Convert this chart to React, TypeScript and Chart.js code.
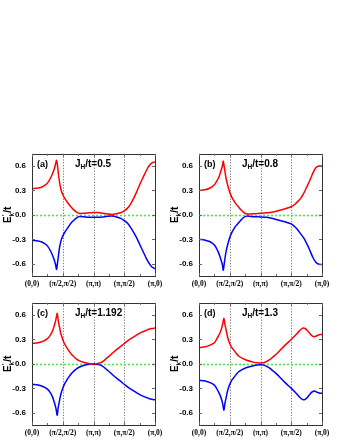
import React, { useEffect, useRef } from "react";
import { Chart, registerables } from "chart.js";
Chart.register(...registerables);

const xLabels = ["(0,0)", "(π/2,π/2)", "(π,π)", "(π,π/2)", "(π,0)"];
const yTicks = [-0.6, -0.3, 0.0, 0.3, 0.6];

// Panel (a) J_H/t = 0.5
const kA = [0, 0.2, 0.3, 0.4, 0.5, 0.6, 0.66, 0.72, 0.76, 0.8, 0.83, 0.86, 0.9, 0.95, 1.0, 1.07, 1.15, 1.25, 1.35, 1.45, 1.55, 1.7, 1.85, 2.0, 2.15, 2.3, 2.45, 2.6, 2.75, 2.9, 3.0, 3.1, 3.2, 3.3, 3.4, 3.5, 3.6, 3.7, 3.8, 3.9, 4.0];
const redA = [0.32, 0.33, 0.34, 0.36, 0.39, 0.45, 0.5, 0.56, 0.615, 0.67, 0.6, 0.5, 0.39, 0.3, 0.25, 0.2, 0.155, 0.105, 0.065, 0.035, 0.018, 0.02, 0.026, 0.03, 0.028, 0.02, 0.012, 0.006, 0.015, 0.03, 0.05, 0.08, 0.13, 0.2, 0.28, 0.37, 0.45, 0.53, 0.6, 0.64, 0.65];
const blueA = [-0.31, -0.32, -0.33, -0.35, -0.38, -0.44, -0.49, -0.55, -0.6, -0.67, -0.59, -0.5, -0.39, -0.31, -0.26, -0.21, -0.165, -0.11, -0.07, -0.035, -0.02, -0.024, -0.028, -0.03, -0.03, -0.025, -0.018, -0.015, -0.025, -0.045, -0.07, -0.1, -0.15, -0.21, -0.28, -0.36, -0.44, -0.52, -0.59, -0.64, -0.66];

// Panel (b) J_H/t = 0.8
const kB = [0, 0.2, 0.36, 0.5, 0.57, 0.63, 0.68, 0.73, 0.76, 0.79, 0.82, 0.85, 0.88, 0.93, 0.99, 1.05, 1.12, 1.2, 1.28, 1.36, 1.44, 1.55, 1.65, 1.77, 2.0, 2.2, 2.4, 2.6, 2.8, 3.0, 3.1, 3.2, 3.3, 3.4, 3.5, 3.6, 3.7, 3.8, 3.9, 4.0];
const redB = [0.3, 0.31, 0.33, 0.37, 0.41, 0.45, 0.5, 0.56, 0.6, 0.66, 0.59, 0.52, 0.45, 0.37, 0.29, 0.23, 0.18, 0.135, 0.1, 0.065, 0.035, 0.012, 0.01, 0.015, 0.02, 0.025, 0.035, 0.055, 0.075, 0.1, 0.125, 0.16, 0.2, 0.26, 0.34, 0.42, 0.51, 0.58, 0.6, 0.6];
const blueB = [-0.3, -0.31, -0.33, -0.37, -0.41, -0.46, -0.51, -0.57, -0.61, -0.68, -0.6, -0.52, -0.45, -0.37, -0.29, -0.23, -0.18, -0.135, -0.1, -0.065, -0.035, -0.015, -0.018, -0.022, -0.025, -0.03, -0.045, -0.065, -0.085, -0.11, -0.14, -0.18, -0.23, -0.28, -0.35, -0.43, -0.52, -0.58, -0.605, -0.61];

// Panel (c) J_H/t = 1.192
const kC = [0, 0.2, 0.37, 0.5, 0.59, 0.65, 0.69, 0.74, 0.78, 0.82, 0.85, 0.89, 0.94, 1.0, 1.06, 1.13, 1.2, 1.29, 1.37, 1.45, 1.55, 1.67, 1.8, 1.9, 2.0, 2.1, 2.21, 2.32, 2.43, 2.54, 2.64, 2.8, 3.0, 3.15, 3.3, 3.45, 3.57, 3.7, 3.8, 3.9, 4.0];
const redC = [0.25, 0.26, 0.28, 0.31, 0.35, 0.39, 0.43, 0.49, 0.55, 0.62, 0.54, 0.46, 0.37, 0.3, 0.245, 0.2, 0.16, 0.115, 0.085, 0.06, 0.038, 0.02, 0.007, 0.002, 0.0, 0.003, 0.012, 0.035, 0.07, 0.105, 0.14, 0.19, 0.25, 0.295, 0.33, 0.365, 0.39, 0.41, 0.425, 0.435, 0.44];
const blueC = [-0.25, -0.26, -0.28, -0.31, -0.35, -0.39, -0.43, -0.49, -0.55, -0.63, -0.54, -0.46, -0.37, -0.3, -0.245, -0.2, -0.16, -0.115, -0.085, -0.06, -0.038, -0.02, -0.007, -0.002, 0.0, -0.003, -0.012, -0.035, -0.07, -0.105, -0.14, -0.19, -0.25, -0.295, -0.33, -0.365, -0.39, -0.41, -0.425, -0.435, -0.44];

// Panel (d) J_H/t = 1.3
const kD = [0, 0.2, 0.36, 0.5, 0.57, 0.63, 0.68, 0.73, 0.77, 0.81, 0.84, 0.88, 0.93, 0.99, 1.05, 1.12, 1.2, 1.28, 1.4, 1.55, 1.77, 1.9, 2.0, 2.1, 2.2, 2.31, 2.42, 2.53, 2.63, 2.8, 3.0, 3.12, 3.23, 3.32, 3.39, 3.45, 3.5, 3.58, 3.66, 3.72, 3.77, 3.83, 3.88, 3.94, 4.0];
const redD = [0.2, 0.21, 0.23, 0.26, 0.3, 0.34, 0.38, 0.43, 0.49, 0.56, 0.49, 0.42, 0.33, 0.26, 0.21, 0.175, 0.135, 0.1, 0.07, 0.045, 0.022, 0.013, 0.01, 0.015, 0.03, 0.055, 0.09, 0.125, 0.165, 0.23, 0.3, 0.345, 0.39, 0.425, 0.44, 0.435, 0.42, 0.385, 0.35, 0.335, 0.335, 0.345, 0.355, 0.36, 0.36];
const blueD = [-0.2, -0.21, -0.23, -0.26, -0.3, -0.34, -0.38, -0.43, -0.49, -0.57, -0.49, -0.42, -0.33, -0.26, -0.21, -0.175, -0.135, -0.1, -0.07, -0.045, -0.022, -0.013, -0.01, -0.015, -0.03, -0.055, -0.09, -0.125, -0.165, -0.23, -0.3, -0.345, -0.39, -0.425, -0.44, -0.435, -0.42, -0.385, -0.35, -0.335, -0.335, -0.345, -0.355, -0.36, -0.36];

const panelTags = ["(a)", "(b)", "(c)", "(d)"];
const jValues = ["0.5", "0.8", "1.192", "1.3"];

const SANS = "'Liberation Sans', Arial, sans-serif";
const SERIF = "'Liberation Serif', 'Times New Roman', serif";

const framePlugin = {
  id: "frame",
  beforeDatasetsDraw(chart: any) {
    const { ctx, chartArea: a, scales } = chart;
    const x = scales.x, y = scales.y;
    ctx.save();
    ctx.strokeStyle = "#555";
    ctx.lineWidth = 0.8;
    ctx.setLineDash([1.2, 1.6]);
    for (const v of [1, 2, 3]) {
      const px = Math.round(x.getPixelForValue(v)) + 0.5;
      ctx.beginPath();
      ctx.moveTo(px, a.top);
      ctx.lineTo(px, a.bottom);
      ctx.stroke();
    }
    ctx.strokeStyle = "#44ee44";
    ctx.lineWidth = 1.6;
    ctx.setLineDash([2, 2]);
    const py = Math.round(y.getPixelForValue(0)) + 0.5;
    ctx.beginPath();
    ctx.moveTo(a.left, py);
    ctx.lineTo(a.right, py);
    ctx.stroke();
    ctx.restore();
  },
  afterDraw(chart: any, _args: any, opts: any) {
    const { ctx, chartArea: a, scales } = chart;
    const x = scales.x, y = scales.y;
    ctx.save();
    ctx.strokeStyle = "#333";
    ctx.lineWidth = 1;
    ctx.setLineDash([]);
    ctx.strokeRect(Math.round(a.left) + 0.5, Math.round(a.top) + 0.5, Math.round(a.right - a.left), Math.round(a.bottom - a.top));
    ctx.strokeStyle = "#666";
    ctx.beginPath();
    for (let i = 0; i <= 8; i++) {
      const v = i / 2;
      const len = i % 2 === 0 ? 3 : 2;
      const px = Math.round(x.getPixelForValue(v)) + 0.5;
      ctx.moveTo(px, a.bottom);
      ctx.lineTo(px, a.bottom - len);
      ctx.moveTo(px, a.top);
      ctx.lineTo(px, a.top + len);
    }
    for (const v of yTicks) {
      const py = Math.round(y.getPixelForValue(v)) + 0.5;
      ctx.moveTo(a.left, py);
      ctx.lineTo(a.left + 3, py);
      ctx.moveTo(a.right, py);
      ctx.lineTo(a.right - 3, py);
    }
    ctx.stroke();
    ctx.fillStyle = "#000";
    ctx.textBaseline = "alphabetic";
    ctx.textAlign = "left";
    ctx.font = `bold 9px ${SANS}`;
    ctx.fillText(opts.tag, a.left + 5, a.top + 13);
    let jx = a.left + 43;
    const jy = a.top + 13;
    ctx.font = `bold 10px ${SANS}`;
    ctx.fillText("J", jx, jy);
    jx += ctx.measureText("J").width;
    ctx.font = `bold 6.5px ${SANS}`;
    ctx.fillText("H", jx, jy + 2.5);
    jx += ctx.measureText("H").width;
    ctx.font = `bold 10px ${SANS}`;
    ctx.fillText("/t=" + opts.j, jx, jy);
    ctx.translate(a.left - 21, (a.top + a.bottom) / 2);
    ctx.rotate(-Math.PI / 2);
    ctx.font = `bold 10px ${SANS}`;
    const wE = ctx.measureText("E").width;
    ctx.font = `bold 6.5px ${SANS}`;
    const wk = ctx.measureText("k").width;
    ctx.font = `bold 10px ${SANS}`;
    const wt = ctx.measureText("/t").width;
    let tx = -(wE + wk + wt) / 2;
    ctx.fillText("E", tx, 0);
    tx += wE;
    ctx.font = `bold 6.5px ${SANS}`;
    ctx.fillText("k", tx, 2.5);
    ctx.fillText("'", tx + 0.5, -4);
    tx += wk;
    ctx.font = `bold 10px ${SANS}`;
    ctx.fillText("/t", tx, 0);
    ctx.restore();
  },
};

type PanelProps = {
  left: number; top: number; width: number; height: number;
  yWidth: number; padRight: number; padTop: number; xHeight: number;
  k: number[]; red: number[]; blue: number[]; tag: string; j: string;
};

function Panel(p: PanelProps) {
  const ref = useRef<HTMLCanvasElement>(null);
  useEffect(() => {
    if (!ref.current) return;
    const toPts = (ys: number[]) => p.k.map((kv, i) => ({ x: kv, y: ys[i] }));
    const chart = new Chart(ref.current, {
      type: "line",
      data: {
        datasets: [
          { data: toPts(p.red), borderColor: "#ff0000", borderWidth: 1.5, pointRadius: 0, tension: 0.3, fill: false },
          { data: toPts(p.blue), borderColor: "#0000ff", borderWidth: 1.5, pointRadius: 0, tension: 0.3, fill: false },
        ],
      },
      options: {
        animation: false,
        responsive: false,
        devicePixelRatio: 1,
        layout: { padding: { top: p.padTop, right: p.padRight, left: 0, bottom: 0 } },
        plugins: {
          legend: { display: false },
          tooltip: { enabled: false },
          frame: { tag: p.tag, j: p.j },
        } as any,
        scales: {
          x: {
            type: "linear",
            min: 0,
            max: 4,
            grid: { display: false, drawTicks: false },
            border: { display: false },
            afterBuildTicks: (s: any) => { s.ticks = [0, 1, 2, 3, 4].map((v) => ({ value: v })); },
            afterFit: (s: any) => { s.height = p.xHeight; },
            ticks: {
              autoSkip: false,
              maxRotation: 0,
              padding: 4,
              color: "#000",
              font: { family: SERIF, size: 7.5, weight: "bold" },
              callback: (v: any) => xLabels[Math.round(Number(v))],
            },
          },
          y: {
            type: "linear",
            min: -0.75,
            max: 0.75,
            grid: { display: false, drawTicks: false },
            border: { display: false },
            afterBuildTicks: (s: any) => { s.ticks = yTicks.map((v) => ({ value: v })); },
            afterFit: (s: any) => { s.width = p.yWidth; },
            ticks: {
              padding: 6,
              color: "#000",
              font: { family: SANS, size: 8, weight: "bold" },
              callback: (v: any) => Number(v).toFixed(1),
            },
          },
        },
      },
      plugins: [framePlugin as any],
    });
    return () => chart.destroy();
  }, []);
  return (
    <canvas
      ref={ref}
      width={p.width}
      height={p.height}
      style={{ position: "absolute", left: p.left, top: p.top, width: p.width, height: p.height }}
    />
  );
}

export default function App() {
  return (
    <div style={{ position: "absolute", left: 0, top: 0, width: 340, height: 440, background: "#fff" }}>
      <Panel left={0} top={143} width={170} height={150} yWidth={32} padRight={15} padTop={10} xHeight={17} k={kA} red={redA} blue={blueA} tag={panelTags[0]} j={jValues[0]} />
      <Panel left={170} top={143} width={170} height={150} yWidth={29} padRight={18} padTop={10} xHeight={17} k={kB} red={redB} blue={blueB} tag={panelTags[1]} j={jValues[1]} />
      <Panel left={0} top={292} width={170} height={148} yWidth={32} padRight={15} padTop={10} xHeight={15} k={kC} red={redC} blue={blueC} tag={panelTags[2]} j={jValues[2]} />
      <Panel left={170} top={292} width={170} height={148} yWidth={29} padRight={18} padTop={10} xHeight={15} k={kD} red={redD} blue={blueD} tag={panelTags[3]} j={jValues[3]} />
    </div>
  );
}
